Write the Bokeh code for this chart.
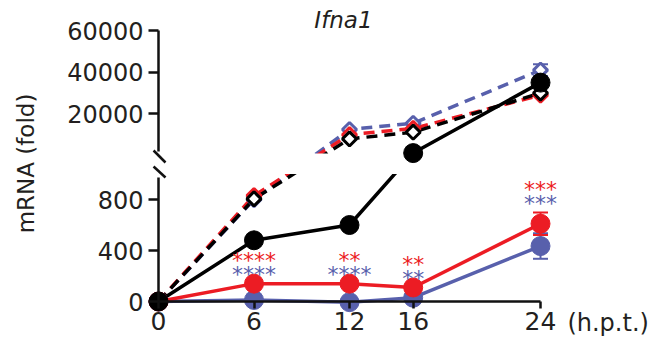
import numpy as np
from bokeh.plotting import figure
from bokeh.models import (Range1d, LinearAxis, FixedTicker, ColumnDataSource,
                          CustomJSTransform, BoxAnnotation, Label, Whisker, TeeHead)
from bokeh.transform import transform
from bokeh.core.properties import value
from bokeh.embed import file_html
from bokeh.resources import INLINE

# ---------------- data ----------------
hours = [0, 6, 12, 16, 24]

# solid lines, filled circles
ctrl_solid = [0, 480, 600, 1200, 35000]
red_solid = [0, 140, 140, 110, 610]
red_solid_err = [0, 0, 0, 0, 88]
blue_solid = [0, 12, -5, 30, 435]
blue_solid_err = [0, 0, 0, 0, 100]

# dashed lines, open diamonds
ctrl_dash = [0, 805, 8000, 11200, 30000]
red_dash = [0, 830, 10000, 13000, 29000]
blue_dash = [0, 800, 12500, 15500, 41000]
blue_dash_err = [0, 0, 0, 0, 2800]

star_hours = [6, 12, 16, 24]
red_stars = ["****", "**", "**", "***"]
blue_stars = ["****", "****", "**", "***"]

x_ticks = [0, 6, 12, 16, 24]
lower_ticks = [0, 400, 800]
upper_ticks = [20000, 40000, 60000]

# ---------------- broken axis scale ----------------
BREAK = 1000.0        # value where the axis is broken
LO = 0.1275           # lower segment: axis units per value
U0 = 148.0            # axis position of the upper segment start
HI = 123.0 / 59000.0  # upper segment: axis units per value

def to_axis(v):
    return v * LO if v <= BREAK else U0 + (v - BREAK) * HI

brk = CustomJSTransform(args=dict(b=BREAK, lo=LO, u0=U0, hi=HI), func="""
    return x <= b ? x * lo : u0 + (x - b) * hi
""", v_func="""
    const out = new Float64Array(xs.length)
    for (let i = 0; i < xs.length; i++) {
        const v = xs[i]
        out[i] = v <= b ? v * lo : u0 + (v - b) * hi
    }
    return out
""")

RED = "#EC1C24"
BLUE = "#5860AC"
BLACK = "#000000"
TXT = "#231F20"
FONT = "DejaVu Sans"

W, H = 660, 344
PX_PER_H = 15.917
X0_PX, Y0_PX = 158.0, 301.0

p = figure(width=W, height=H,
           x_range=Range1d(-X0_PX / PX_PER_H, (W - X0_PX) / PX_PER_H),
           y_range=Range1d(Y0_PX - H, Y0_PX), x_axis_type=None, y_axis_type=None,
           toolbar_location=None, output_backend="svg", min_border=0,
           outline_line_color=None)

def style(ax, tick_out):
    ax.axis_line_width = 2.5
    ax.axis_line_color = "#111111"
    ax.major_tick_line_width = 2.5
    ax.major_tick_line_color = "#111111"
    ax.major_tick_in = 0
    ax.major_tick_out = tick_out
    ax.minor_tick_line_color = None
    ax.major_label_text_font = FONT
    ax.major_label_text_font_size = "24px"
    ax.major_label_text_color = TXT

xa = LinearAxis(fixed_location=0, bounds=(0, 24), ticker=FixedTicker(ticks=x_ticks))
style(xa, 7)
xa.major_label_standoff = 3
xa.major_label_text_font_size = "25px"
p.add_layout(xa, "below")

lo_pos = [to_axis(t) for t in lower_ticks]
ya_lo = LinearAxis(fixed_location=0, bounds=(0, 124), ticker=FixedTicker(ticks=lo_pos),
                   major_label_overrides={k: str(t) for k, t in zip(lo_pos, lower_ticks)})
style(ya_lo, 10)
ya_lo.major_label_standoff = 5
p.add_layout(ya_lo, "left")

up_pos = [to_axis(t) for t in upper_ticks]
ya_up = LinearAxis(fixed_location=0, bounds=(U0 + 2, to_axis(60000)), ticker=FixedTicker(ticks=up_pos),
                   major_label_overrides={k: str(t) for k, t in zip(up_pos, upper_ticks)})
style(ya_up, 10)
ya_up.major_label_standoff = 5
p.add_layout(ya_up, "left")

src = ColumnDataSource(dict(x=hours, ctrl_solid=ctrl_solid, red_solid=red_solid,
                            blue_solid=blue_solid, ctrl_dash=ctrl_dash,
                            red_dash=red_dash, blue_dash=blue_dash))

# lines (lowest level, so the break band can mask them)
for col, c in [("blue_dash", BLUE), ("red_dash", RED), ("ctrl_dash", BLACK)]:
    p.line("x", transform(col, brk), source=src, line_color=c, line_width=3.5,
           line_dash="11 7", level="image")
for col, c in [("blue_solid", BLUE), ("red_solid", RED), ("ctrl_solid", BLACK)]:
    p.line("x", transform(col, brk), source=src, line_color=c, line_width=3.5,
           level="image")

# gap of the broken axis
p.add_layout(BoxAnnotation(bottom=to_axis(BREAK), top=U0, fill_color="white",
                           fill_alpha=1.0, line_color=None, level="underlay"))

# error bars
def add_err(vals, errs, c):
    xs = [h for h, e in zip(hours, errs) if e > 0]
    up = [v + e for v, e in zip(vals, errs) if e > 0]
    lo = [v - e for v, e in zip(vals, errs) if e > 0]
    s = ColumnDataSource(dict(x=xs, upper=up, lower=lo))
    p.add_layout(Whisker(source=s, base="x", upper=transform("upper", brk),
                         lower=transform("lower", brk), line_color=c, line_width=2,
                         upper_head=TeeHead(size=15, line_color=c, line_width=2),
                         lower_head=TeeHead(size=15, line_color=c, line_width=2)))

add_err(blue_dash, blue_dash_err, BLUE)
add_err(blue_solid, blue_solid_err, BLUE)
add_err(red_solid, red_solid_err, RED)

# markers
for col, c in [("blue_dash", BLUE), ("red_dash", RED), ("ctrl_dash", BLACK)]:
    p.scatter("x", transform(col, brk), source=src, marker="square", angle=np.pi / 4,
              size=10, fill_color="white", line_color=c, line_width=3)
for col, c in [("blue_solid", BLUE), ("red_solid", RED), ("ctrl_solid", BLACK)]:
    p.scatter("x", transform(col, brk), source=src, marker="circle", size=19,
              fill_color=c, line_color=c)

# significance stars
idx = [hours.index(h) for h in star_hours]
star_top = [red_solid[i] + red_solid_err[i] for i in idx]
ssrc = ColumnDataSource(dict(x=star_hours, y=star_top, red=red_stars, blue=blue_stars))
p.text("x", transform("y", brk), text="red", source=ssrc, text_color=RED,
       text_font=value(FONT), text_font_size="22px", text_align="center",
       text_baseline="alphabetic", y_offset=-23)
p.text("x", transform("y", brk), text="blue", source=ssrc, text_color=BLUE,
       text_font=value(FONT), text_font_size="22px", text_align="center",
       text_baseline="alphabetic", y_offset=-9)

# axis break marks
p.segment(x0=[-0.31, -0.31], y0=[U0 + 3, U0 - 13], x1=[0.44, 0.44], y1=[U0 - 9, U0 - 24],
          line_color="#111111", line_width=2.5, level="overlay")

# texts
p.add_layout(Label(x=-8.3, y=138, text="mRNA (fold)", angle=np.pi / 2,
                   text_align="center", text_baseline="middle", text_font=FONT,
                   text_font_size="23px", text_color=TXT))
p.add_layout(Label(x=25.69, y=-7, text="(h.p.t.)", text_align="left",
                   text_baseline="top", text_font=FONT, text_font_size="24px",
                   text_color=TXT))
p.add_layout(Label(x=11.62, y=282, text="Ifna1", text_align="center",
                   text_baseline="middle", text_font=FONT, text_font_style="italic",
                   text_font_size="23px", text_color=TXT))

open("out.html", "w").write(file_html(p, INLINE))
